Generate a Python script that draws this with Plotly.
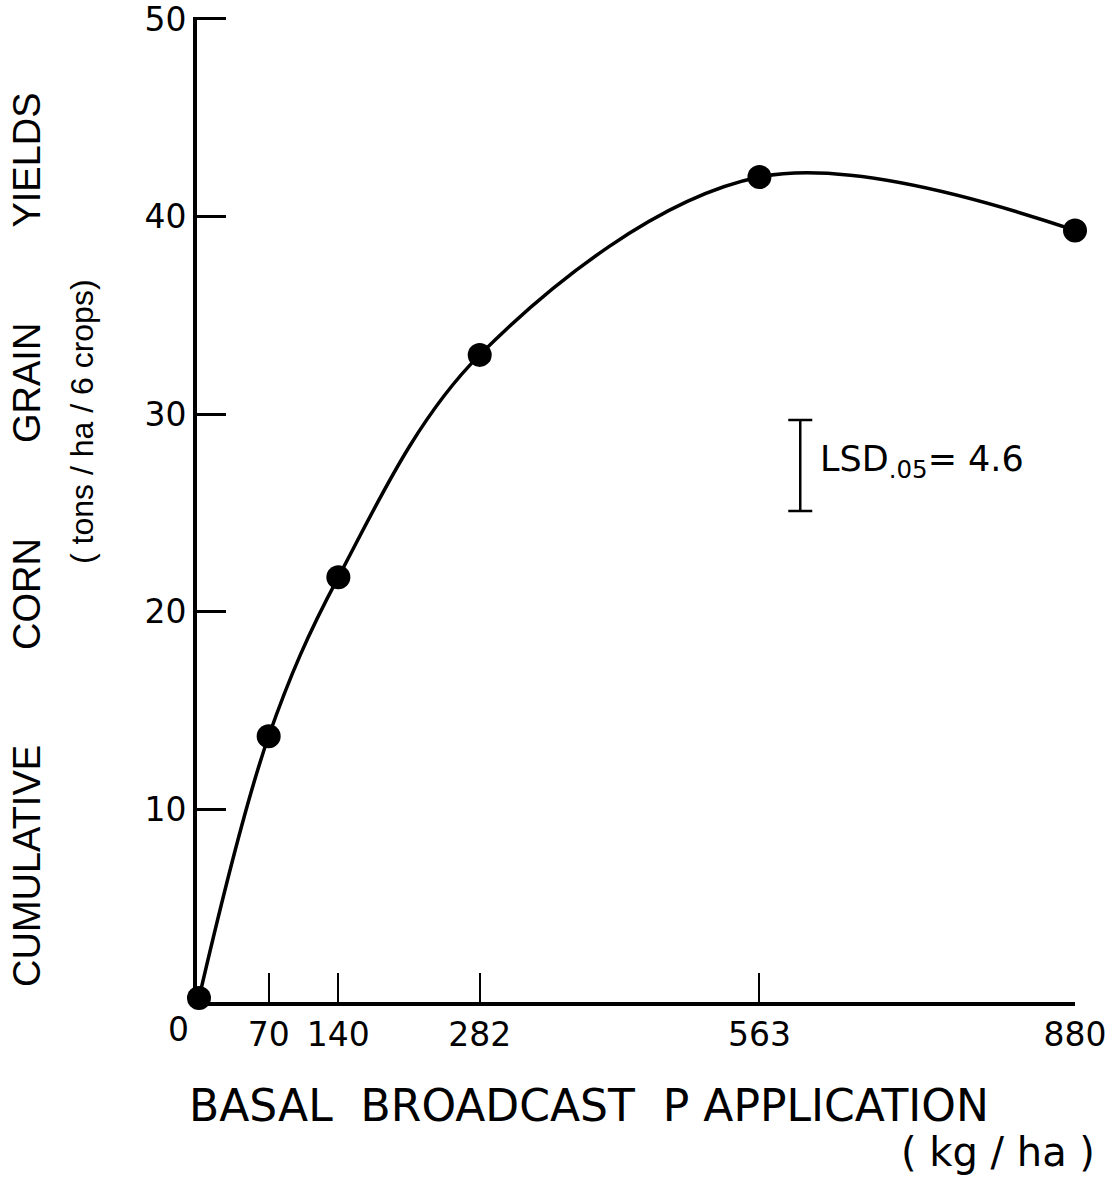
import plotly.graph_objects as go

# ---- data ----
p_rate = [0, 70, 140, 282, 563, 880]          # kg/ha
yield_cum = [0.45, 13.7, 21.75, 33.0, 42.0, 39.3]  # tons/ha/6 crops
x_tick_vals = [70, 140, 282, 563, 880]
x_tick_text = ["70", "140", "282", "563", "880"]
y_tick_vals = [10, 20, 30, 40, 50]
y_tick_text = ["10", "20", "30", "40", "50"]
lsd_value = 4.6
lsd_x = 604
lsd_center = 27.4

FONT = "DejaVu Sans"

fig = go.Figure()

fig.add_trace(go.Scatter(
    x=p_rate, y=yield_cum, mode="lines+markers",
    line=dict(color="black", width=3.5, shape="spline", smoothing=1.0),
    marker=dict(color="black", size=24),
    cliponaxis=False, showlegend=False,
))

# LSD bar
fig.add_trace(go.Scatter(
    x=[lsd_x], y=[lsd_center], mode="markers",
    marker=dict(size=1, color="rgba(0,0,0,0)"),
    error_y=dict(type="constant", value=lsd_value / 2, color="black",
                 thickness=2.5, width=12),
    showlegend=False,
))

fig.update_xaxes(
    range=[-2, 880], showline=True, linecolor="black", linewidth=4,
    ticks="inside", ticklen=29, tickwidth=2, tickcolor="black",
    tickvals=x_tick_vals, ticktext=x_tick_text,
    tickfont=dict(family=FONT, size=33, color="black"),
    ticklabeloverflow="allow", automargin=False,
    showgrid=False, zeroline=False,
)
fig.update_yaxes(
    range=[0.25, 50.1], showline=True, linecolor="black", linewidth=4,
    ticks="inside", ticklen=29, tickwidth=2.5, tickcolor="black",
    tickvals=y_tick_vals, ticktext=y_tick_text,
    tickfont=dict(family=FONT, size=33, color="black"),
    ticklabeloverflow="allow", automargin=False,
    showgrid=False, zeroline=False,
)

W0, H0 = 197, 1002  # plot-area left / bottom in px
PW, PH = 878, 985


def px(xp):
    return (xp - W0) / PW


def py(yp):
    return (H0 - yp) / PH


GAP = "&nbsp;" * 9

annotations = [
    dict(text="0", x=px(178), y=py(1029), xref="paper", yref="paper", showarrow=False,
         xanchor="center", yanchor="middle",
         font=dict(family=FONT, size=33, color="black")),
    dict(text="LSD<sub>.05</sub>= 4.6", x=622, y=27.6, xref="x", yref="y",
         showarrow=False, xanchor="left", yanchor="middle",
         font=dict(family=FONT, size=35, color="black")),
    dict(text="BASAL  BROADCAST  P APPLICATION", x=px(187), y=py(1105),
         xref="paper", yref="paper", showarrow=False, xanchor="left", yanchor="middle",
         font=dict(family=FONT, size=44, color="black")),
    dict(text="( kg / ha )", x=px(1097), y=py(1152),
         xref="paper", yref="paper", showarrow=False, xanchor="right", yanchor="middle",
         font=dict(family=FONT, size=40, color="black")),
    dict(text="CUMULATIVE" + GAP + "CORN" + GAP + "GRAIN" + GAP + "YIELDS",
         x=px(27), y=py(540), textangle=-90,
         xref="paper", yref="paper", showarrow=False, xanchor="center", yanchor="middle",
         font=dict(family="Liberation Sans", size=38, color="black")),
    dict(text="( tons / ha / 6 crops)",
         x=px(82), y=py(422), textangle=-90,
         xref="paper", yref="paper", showarrow=False, xanchor="center", yanchor="middle",
         font=dict(family="Liberation Sans", size=32, color="black")),
]

fig.update_layout(
    width=1112, height=1180,
    margin=dict(l=197, r=37, t=17, b=178),
    plot_bgcolor="white", paper_bgcolor="white",
    annotations=annotations,
)

fig.write_html("out.html")
